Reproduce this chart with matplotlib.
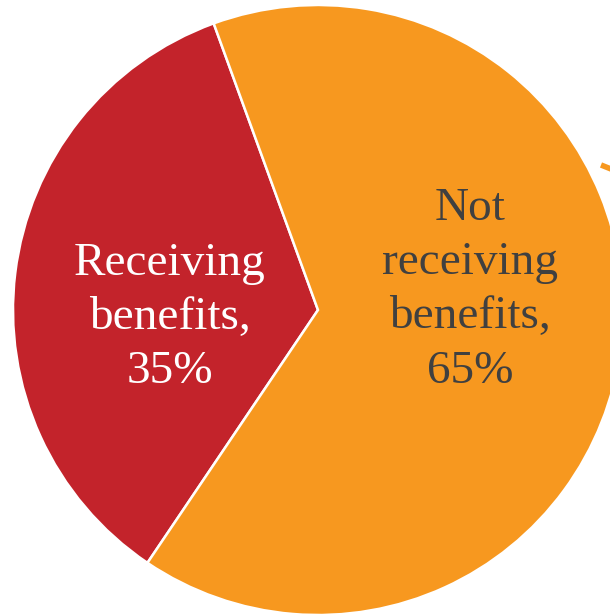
import matplotlib
matplotlib.use("Agg")
from matplotlib import pyplot as plt

labels = ["Receiving\nbenefits,", "Not\nreceiving\nbenefits,"]
shares = [35, 65]
colors = ["#C3232B", "#F7981F"]
text_colors = ["white", "#404040"]

fig = plt.figure(figsize=(6.10, 6.16), dpi=100)
ax = fig.add_axes([0, 0, 1, 1])

# pie laid out in pixel units so it can run off the right edge
wedges, texts = ax.pie(shares, colors=colors, startangle=110, counterclock=True,
                       center=(318, 306), radius=305, frame=True,
                       wedgeprops=dict(edgecolor="white", linewidth=1.8))

label_pos = [(170, 298), (470, 326)]
for lab, val, pos, tc in zip(labels, shares, label_pos, text_colors):
    ax.text(pos[0], pos[1], f"{lab}\n{val}%", ha="center", va="center",
            fontsize=34, color=tc, family="Liberation Serif", linespacing=1.36)

# stub of a leader line at the right edge
ax.plot([601, 611], [451, 447], color="#F7981F", lw=4, solid_capstyle="butt")

ax.set_xlim(0, 610)
ax.set_ylim(0, 616)
ax.set_aspect("equal")
ax.axis("off")

fig.savefig("out.png", dpi=100)
